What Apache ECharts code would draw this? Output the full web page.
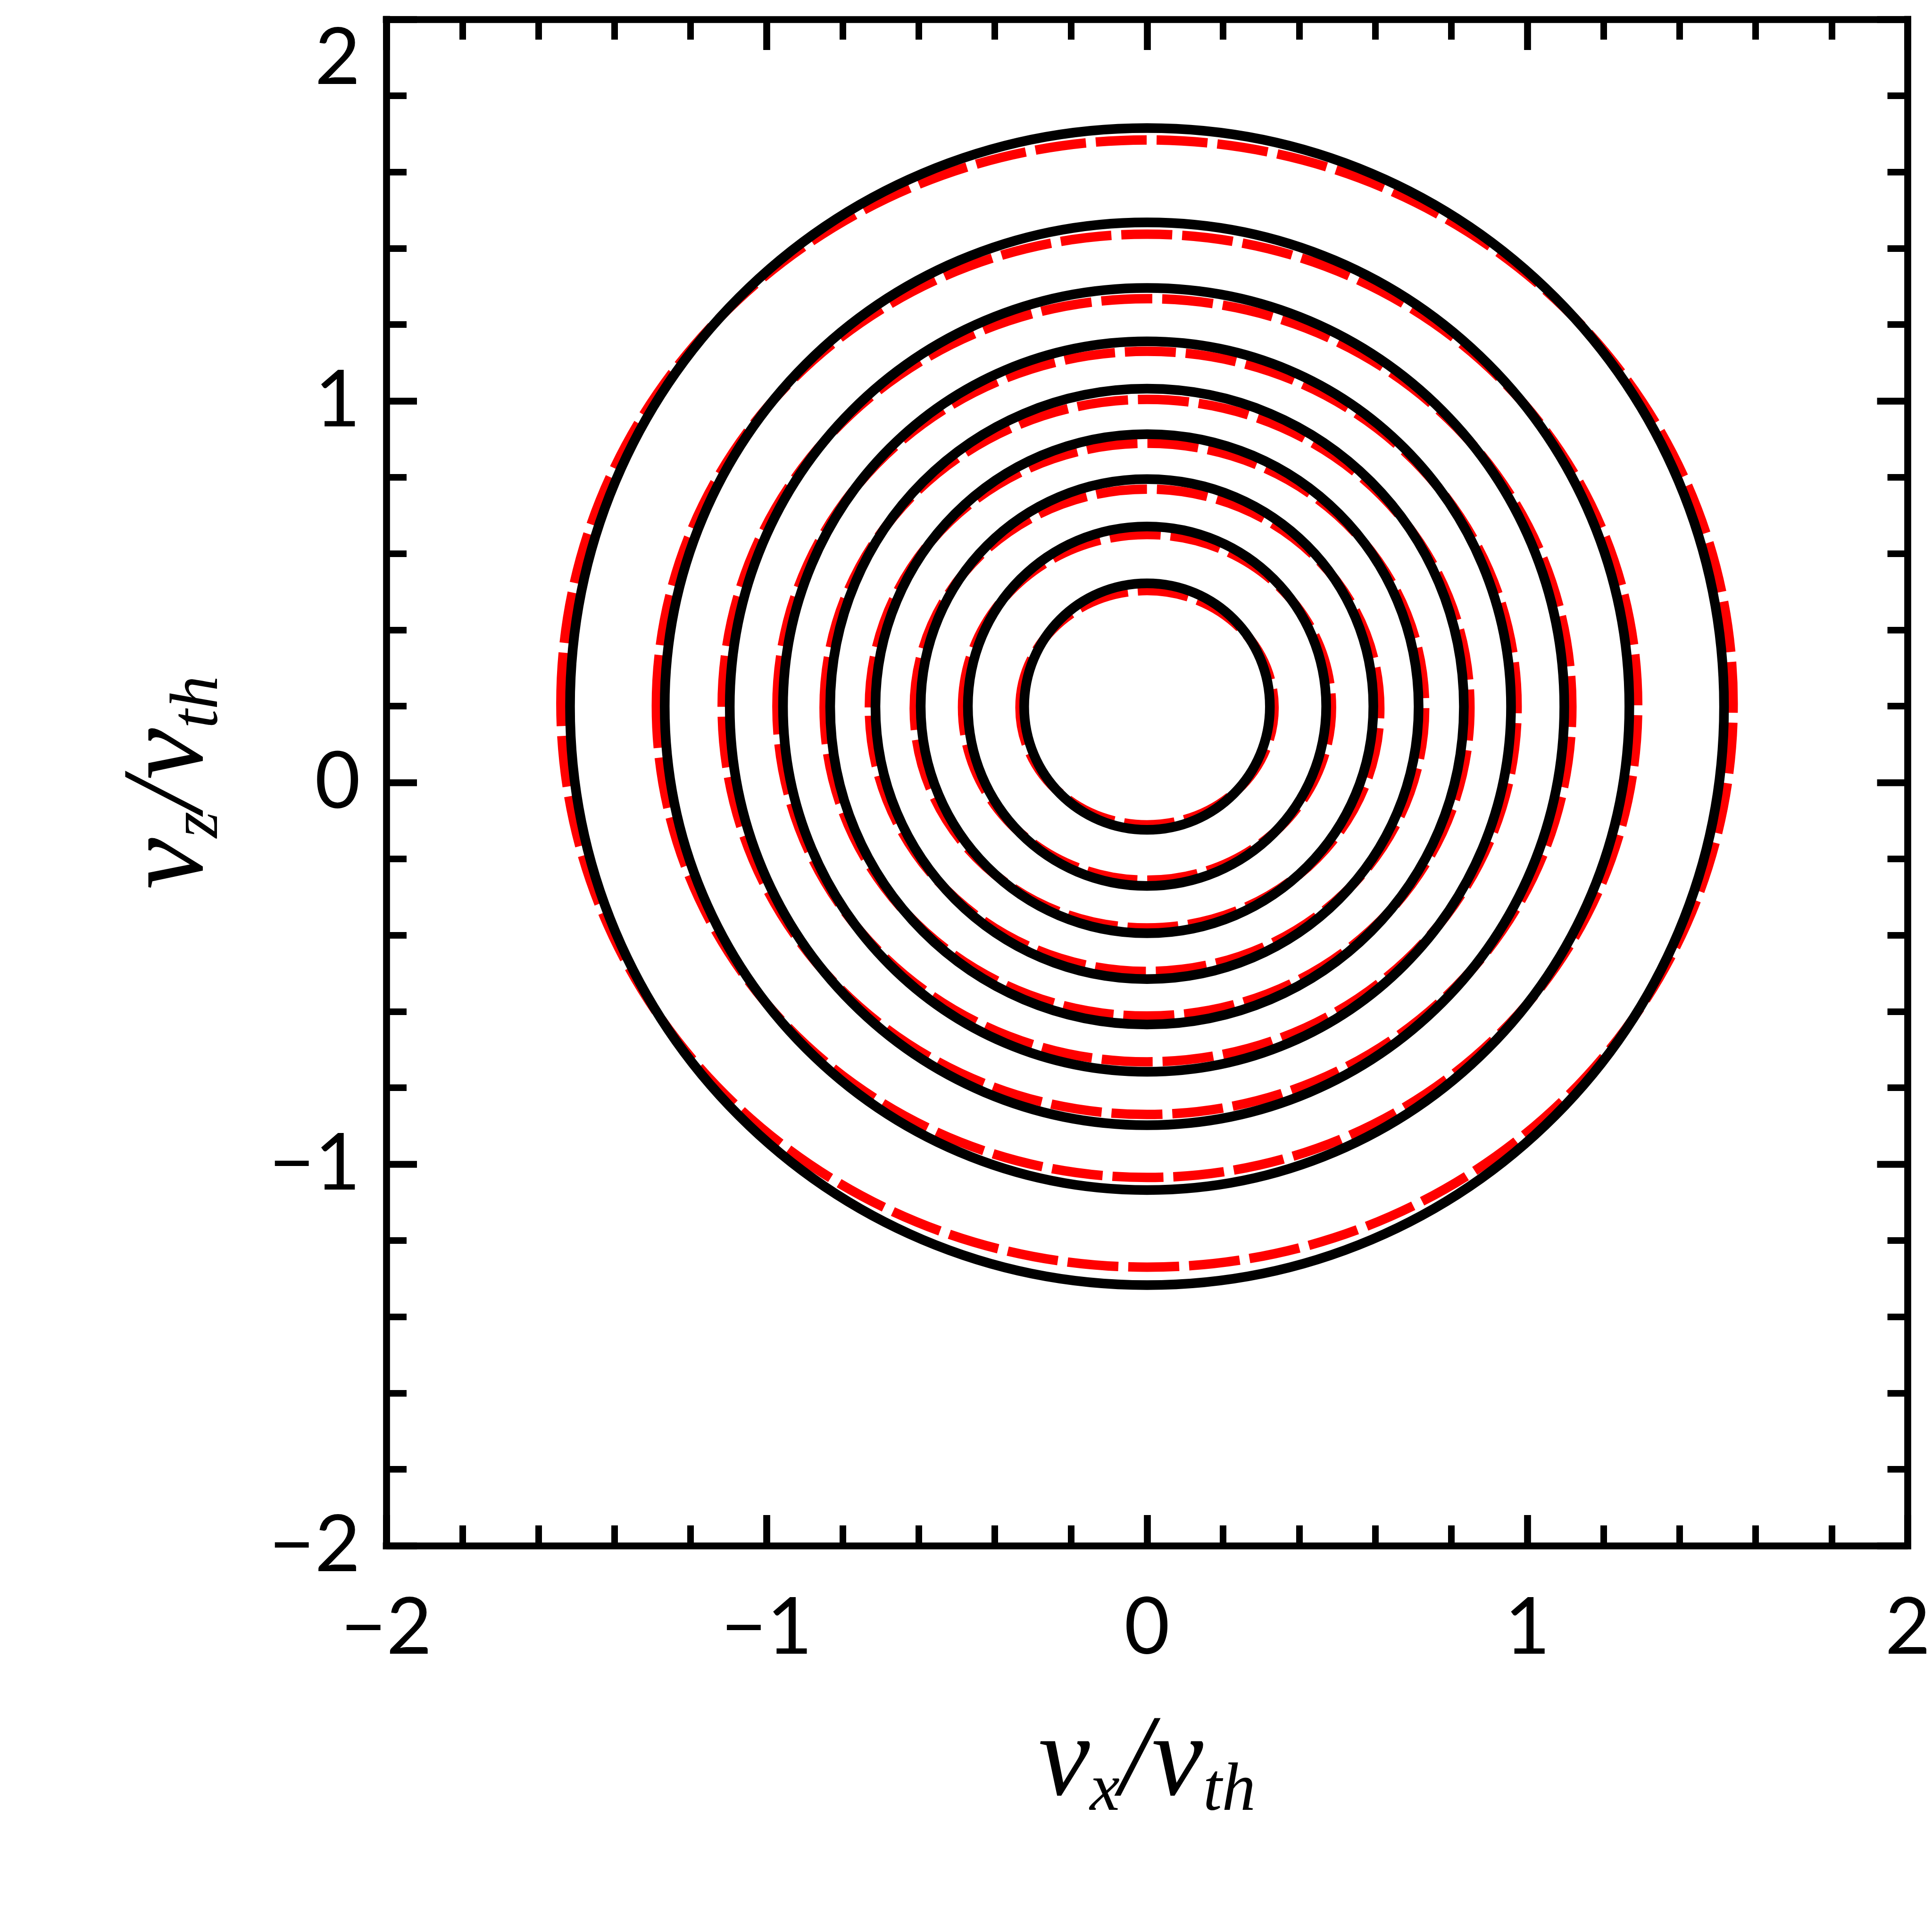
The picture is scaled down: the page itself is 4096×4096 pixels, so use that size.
<!DOCTYPE html>
<html>
<head>
<meta charset="utf-8">
<script src="https://cdn.jsdelivr.net/npm/echarts@6/dist/echarts.min.js"></script>
<style>
html,body{margin:0;padding:0;background:#fff;}
#chart{width:4096px;height:4096px;}
</style>
</head>
<body>
<div id="chart"></div>
<script>
// ---- Data (data units) ----
// Black solid contours: centre (x, y) and radius
const blackCenterX = [0, 0, 0, 0, 0, 0, 0, 0, 0];
const blackCenterY = [0.199, 0.200, 0.200, 0.199, 0.199, 0.199, 0.199, 0.200, 0.199];
const blackRadiusX = [0.323, 0.471, 0.595, 0.714, 0.833, 0.957, 1.097, 1.268, 1.517];
const blackRadiusY = [0.323, 0.471, 0.595, 0.714, 0.833, 0.957, 1.097, 1.268, 1.516];
// Red dashed contours: centre (x, y) and semi-axes
const redCenterX = [0, 0, 0, 0, 0, 0, 0, 0, 0];
const redCenterY = [0.196, 0.197, 0.194, 0.197, 0.196, 0.199, 0.199, 0.201, 0.207];
const redRadiusX = [0.334, 0.485, 0.612, 0.730, 0.849, 0.973, 1.117, 1.290, 1.541];
const redRadiusY = [0.307, 0.453, 0.575, 0.692, 0.808, 0.931, 1.069, 1.236, 1.477];
// Tick labels
const xTickValues = [-2, -1, 0, 1, 2];
const xTickLabels = ['\u22122', '\u22121', '0', '1', '2'];
const yTickValues = [-2, -1, 0, 1, 2];
const yTickLabels = ['\u22122', '\u22121', '0', '1', '2'];
// Axis titles (rich text)
const xTitle = '{v|v}{s|x}{v|/}{v|v}{s|th}';
const yTitle = '{v|v}{s|z}{v|/}{v|v}{s|th}';

// ---- Styles ----
const FRAME_W = 14.7;
const richTitle = {
  v: {fontFamily: 'Liberation Serif', fontStyle: 'italic', fontSize: 245, lineHeight: 275, color: '#000', verticalAlign: 'middle'},
  s: {fontFamily: 'Liberation Serif', fontStyle: 'italic', fontSize: 143, lineHeight: 143, padding: [118, 0, 0, 0], color: '#000', verticalAlign: 'middle'}
};

function lookup(values, labels) {
  return function (v) {
    for (let i = 0; i < values.length; i++) {
      if (Math.abs(values[i] - v) < 1e-9) return labels[i];
    }
    return '';
  };
}

function makeAxis(position, showLabel, extra) {
  const ax = {
    type: 'value', min: -2, max: 2, interval: 1, position: position, gridIndex: 0,
    axisLine: {show: true, onZero: false, lineStyle: {color: '#000', width: FRAME_W, cap: 'square'}},
    axisTick: {show: true, inside: true, length: 65, lineStyle: {color: '#000', width: FRAME_W}},
    minorTick: {show: true, splitNumber: 5, length: 43, lineStyle: {color: '#000', width: 14}},
    splitLine: {show: false},
    minorSplitLine: {show: false},
    axisLabel: {show: showLabel}
  };
  return Object.assign(ax, extra || {});
}

function ellipseSeries(name, cx, cy, rx, ry, style, z) {
  const data = cx.map(function (v, i) { return [v, cy[i], rx[i], ry[i]]; });
  return {
    type: 'custom', name: name, coordinateSystem: 'cartesian2d',
    xAxisIndex: 0, yAxisIndex: 0, encode: {x: 0, y: 1},
    data: data, clip: false, silent: true, animation: false, z: z,
    renderItem: function (params, api) {
      const c = api.coord([api.value(0), api.value(1)]);
      const s = api.size([api.value(2), api.value(3)]);
      return {
        type: 'ellipse',
        shape: {cx: c[0], cy: c[1], rx: Math.abs(s[0]), ry: Math.abs(s[1])},
        style: Object.assign({fill: 'none'}, style)
      };
    }
  };
}

const chart = echarts.init(document.getElementById('chart'), null, {renderer: 'canvas', width: 4096, height: 4096});

const option = {
  backgroundColor: '#fff',
  animation: false,
  grid: {left: 819, top: 41, width: 3236, height: 3236, containLabel: false},
  xAxis: [
    makeAxis('bottom', true, {
      axisLabel: {show: true, margin: 92, fontFamily: 'Lato', fontSize: 167, color: '#000',
        formatter: lookup(xTickValues, xTickLabels)},
      name: xTitle, nameLocation: 'middle', nameGap: 326,
      nameTextStyle: {rich: richTitle, color: '#000'}
    }),
    makeAxis('top', false)
  ],
  yAxis: [
    makeAxis('left', true, {
      axisLabel: {show: true, margin: 55, fontFamily: 'Lato', fontSize: 167, color: '#000',
        verticalAlignMaxLabel: 'top',
        formatter: lookup(yTickValues, yTickLabels)},
      name: yTitle, nameLocation: 'middle', nameGap: 318, nameRotate: 90,
      nameTextStyle: {rich: richTitle, color: '#000'}
    }),
    makeAxis('right', false)
  ],
  series: [
    ellipseSeries('red', redCenterX, redCenterY, redRadiusX, redRadiusY,
      {stroke: '#ff0000', lineWidth: 20, lineDash: [108, 21]}, 2),
    ellipseSeries('black', blackCenterX, blackCenterY, blackRadiusX, blackRadiusY,
      {stroke: '#000000', lineWidth: 20.5}, 3)
  ]
};
chart.setOption(option);
</script>
</body>
</html>
